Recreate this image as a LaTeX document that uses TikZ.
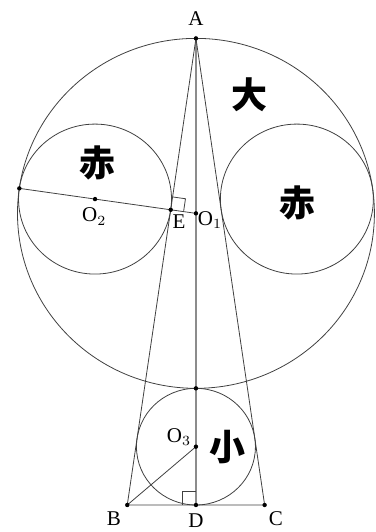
\documentclass[tikz,border=0pt]{standalone}
\usepackage{fontspec}
\setmainfont{Liberation Serif}
\newfontfamily\cjk{Noto Sans CJK SC}
\usetikzlibrary{calc}

\begin{document}
\begin{tikzpicture}[
  x=29.75pt, y=29.17pt,
  geo/.style={draw=black!75, line width=0.4pt},
  axisline/.style={draw=black!45, line width=0.8pt},
  dot/.style={circle, fill=black, inner sep=0pt, minimum size=2.2pt},
  lbl/.style={font=\fontsize{10.5}{10.5}\selectfont, inner sep=0pt},
  han/.style={font=\cjk\bfseries\fontsize{18}{18}\selectfont, inner sep=0pt}
]
\useasboundingbox (-3.294,-0.463) rectangle (3.025,8.658);

% points (big radius 3, small radius 1)
\coordinate (A)  at (0,8);
\coordinate (O1) at (0,5);
\coordinate (P)  at (0,2);
\coordinate (O3) at (0,1);
\coordinate (D)  at (0,0);
\coordinate (B)  at (-1.1547,0);
\coordinate (C)  at (1.1547,0);
\coordinate (E)  at (-0.4242,5.0612);
\coordinate (O2) at (-1.6967,5.2449);
\coordinate (O2r) at (1.6967,5.2449);
\coordinate (T)  at (-2.9692,5.4286);

% circles
\draw[geo] (O1) circle (3);
\draw[geo] (O2) circle (1.2857);
\draw[geo] (O2r) circle (1.2857);
\draw[geo] (O3) circle (1);

% lines
\draw[axisline] (A) -- (D);
\draw[geo] (A) -- (B) -- (C) -- cycle;
\draw[geo] (T) -- (O1);
\draw[geo] (O3) -- (B);

% right angles
\coordinate (Ea) at ($(E)!6.5pt!(A)$);
\coordinate (Eo) at ($(E)!6.5pt!(O1)$);
\draw[geo] (Ea) -- ($(Ea)+(Eo)-(E)$) -- (Eo);
\coordinate (Db) at ($(D)!6.8pt!(B)$);
\coordinate (Dt) at ($(D)!6.8pt!(O3)$);
\draw[geo] (Db) -- ($(Db)+(Dt)-(D)$) -- (Dt);

% dots
\foreach \p in {A,O1,P,O3,D,B,C,E,O2,T}
  \node[dot] at (\p) {};

% labels
\node[lbl] (lA)  at (0,8.332)       {A};
\node[lbl] (lO2) at (-1.709,4.943)  {O$_2$};
\node[lbl] (lE)  at (-0.286,4.852)  {E};
\node[lbl] (lO1) at (0.235,4.886)   {O$_1$};
\node[lbl] (lO3) at (-0.286,1.171)  {O$_3$};
\node[lbl] (lB)  at (-1.378,-0.240) {B};
\node[lbl] (lD)  at (0,-0.274)      {D};
\node[lbl] (lC)  at (1.345,-0.240)  {C};

\node[han] (da)   at (0.908,7.029)  {大};
\node[han] (chiL) at (-1.647,5.863) {赤};
\node[han] (chiR) at (1.714,5.177)  {赤};
\node[han] (xiao) at (0.538,0.994)  {小};
\end{tikzpicture}
\end{document}
